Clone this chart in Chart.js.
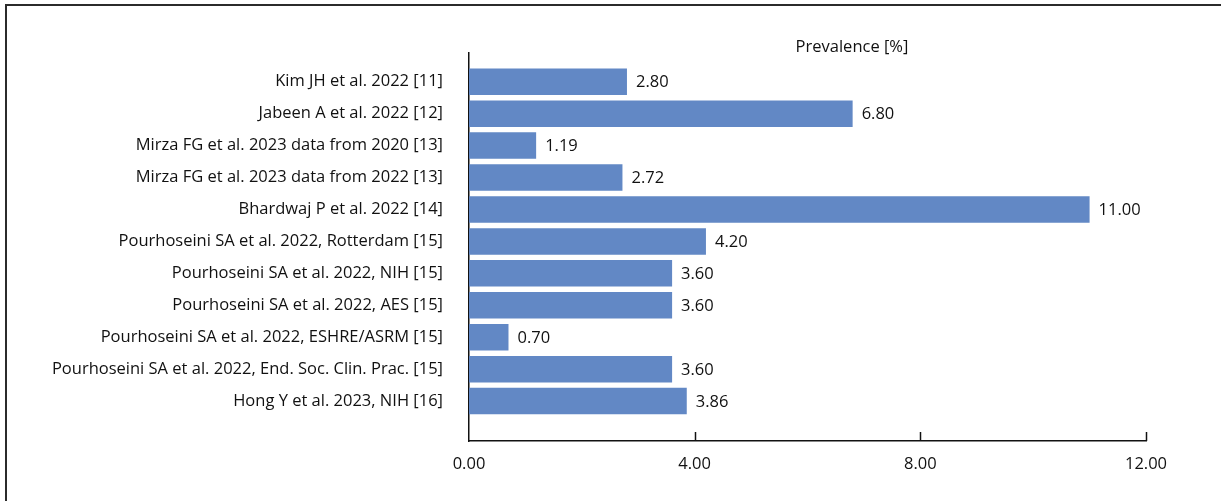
<!DOCTYPE html>
<html>
<head>
<meta charset="utf-8">
<script src="https://cdn.jsdelivr.net/npm/chart.js@4"></script>
<style>
  html, body { margin: 0; padding: 0; background: #fff; }
  #wrap { position: relative; width: 1221px; height: 501px; }
  #frame {
    position: absolute; left: 5px; top: 4px; right: 0; bottom: 0;
    border-top: 2px solid #2b2b2b; border-left: 2px solid #2b2b2b;
    pointer-events: none;
  }
</style>
</head>
<body>
<div id="wrap">
  <canvas id="prevChart" width="1221" height="501"></canvas>
  <div id="frame"></div>
</div>
<script>
const studies = [
  'Kim JH et al. 2022 [11]',
  'Jabeen A et al. 2022 [12]',
  'Mirza FG et al. 2023 data from 2020 [13]',
  'Mirza FG et al. 2023 data from 2022 [13]',
  'Bhardwaj P et al. 2022 [14]',
  'Pourhoseini SA et al. 2022, Rotterdam [15]',
  'Pourhoseini SA et al. 2022, NIH [15]',
  'Pourhoseini SA et al. 2022, AES [15]',
  'Pourhoseini SA et al. 2022, ESHRE/ASRM [15]',
  'Pourhoseini SA et al. 2022, End. Soc. Clin. Prac. [15]',
  'Hong Y et al. 2023, NIH [16]'
];
const prevalence = [2.80, 6.80, 1.19, 2.72, 11.00, 4.20, 3.60, 3.60, 0.70, 3.60, 3.86];
const xTicks = [0, 4, 8, 12];
const chartTitle = 'Prevalence [%]';

const FONT = '"Open Sans", sans-serif';
const FONT_SIZE = 16.5;
const BAR_COLOR = '#6288c5';

// value labels at the end of each bar, small tick marks on the x axis, title
const extras = {
  id: 'extras',
  afterDatasetsDraw(chart) {
    const ctx = chart.ctx;
    const meta = chart.getDatasetMeta(0);
    ctx.save();
    ctx.fillStyle = '#111';
    ctx.font = FONT_SIZE + 'px ' + FONT;
    ctx.textAlign = 'left';
    ctx.textBaseline = 'middle';
    meta.data.forEach((bar, i) => {
      ctx.fillText(prevalence[i].toFixed(2), bar.x + 9, bar.y + 1);
    });

    const x = chart.scales.x;
    const bottom = chart.chartArea.bottom;
    ctx.strokeStyle = '#111';
    ctx.lineWidth = 1.5;
    xTicks.slice(1).forEach(v => {
      const px = Math.round(x.getPixelForValue(v)) + 0.5;
      ctx.beginPath();
      ctx.moveTo(px, bottom - 9);
      ctx.lineTo(px, bottom);
      ctx.stroke();
    });

    ctx.textAlign = 'center';
    ctx.fillText(chartTitle, 852, 47);
    ctx.restore();
  }
};

new Chart(document.getElementById('prevChart').getContext('2d'), {
  type: 'bar',
  data: {
    datasets: [{
      data: prevalence.map((v, i) => ({ x: v, y: i })),
      backgroundColor: BAR_COLOR,
      borderWidth: 0,
      barPercentage: 0.83,
      categoryPercentage: 1
    }]
  },
  options: {
    indexAxis: 'y',
    responsive: false,
    animation: false,
    layout: { padding: { top: 53, right: 75, left: 0, bottom: 0 } },
    plugins: { legend: { display: false }, tooltip: { enabled: false } },
    scales: {
      x: {
        type: 'linear',
        min: 0,
        max: 12,
        offset: false,
        afterBuildTicks: s => { s.ticks = xTicks.map(v => ({ value: v })); },
        afterFit: s => { s.height = 60; },
        grid: { display: false },
        border: { display: true, color: '#111', width: 1.5 },
        ticks: {
          color: '#111',
          padding: 5,
          font: { family: FONT, size: FONT_SIZE },
          callback: v => Number(v).toFixed(2)
        }
      },
      y: {
        type: 'linear',
        reverse: true,
        offset: false,
        min: -0.9,
        max: 11.25,
        afterBuildTicks: s => { s.ticks = studies.map((_, i) => ({ value: i })); },
        afterFit: s => { s.width = 469; },
        grid: { display: false },
        border: { display: true, color: '#111', width: 1.5 },
        ticks: {
          color: '#111',
          padding: 18,
          autoSkip: false,
          font: { family: FONT, size: FONT_SIZE },
          callback: v => studies[v]
        }
      }
    }
  },
  plugins: [extras]
});
</script>
</body>
</html>
